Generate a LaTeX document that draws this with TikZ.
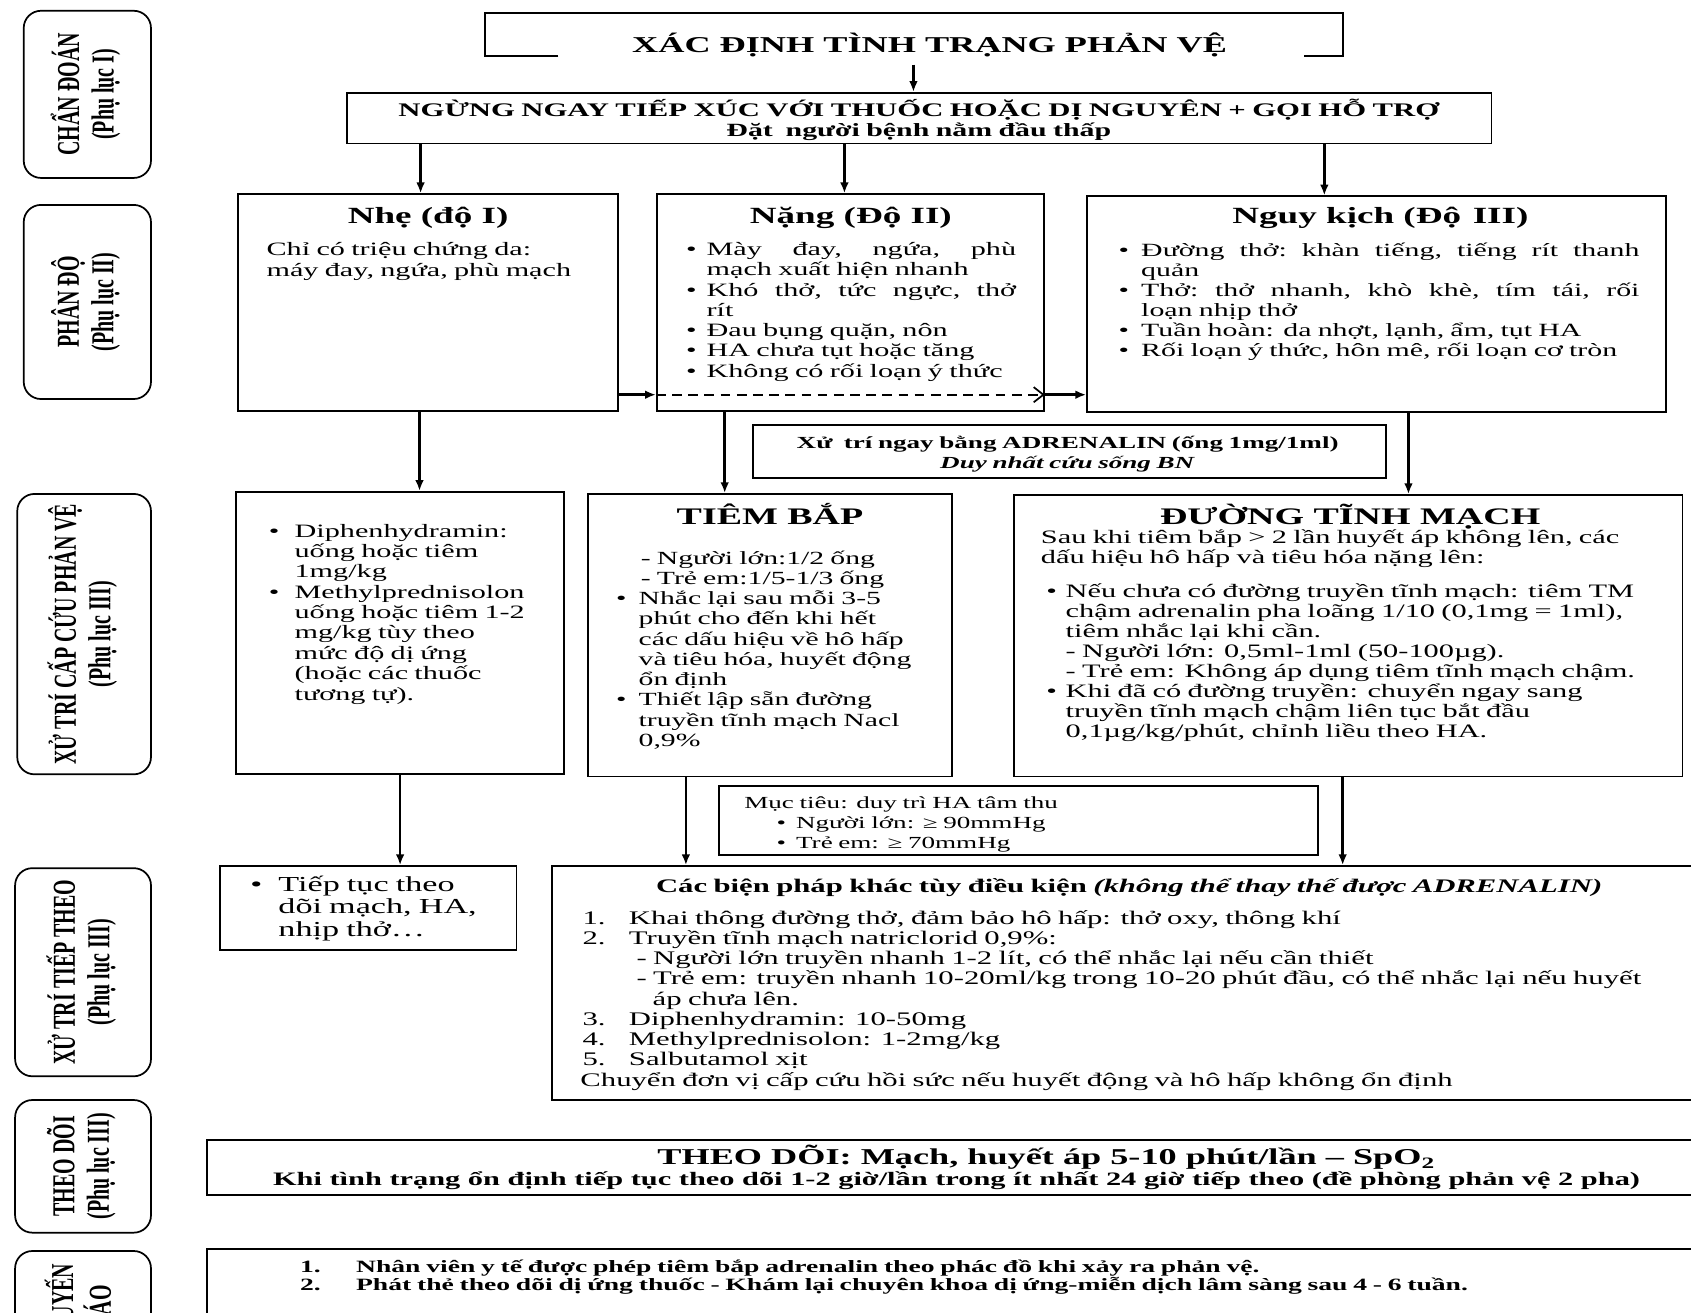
\documentclass[tikz,border=0pt]{standalone}
\usepackage{graphicx}
\usepackage{fontspec}
\setmainfont{Liberation Serif}[FakeStretch=1.6]
\newfontfamily\labfont{Liberation Serif}
\usetikzlibrary{arrows.meta,fit}
\newcommand\bul[1]{\makebox[#1][l]{•}}
\newcommand\ind[1]{\hspace*{#1}}
\newcommand\labeltext[2]{\scalebox{1}[1.6]{\labfont\bfseries\fontsize{18.5}{20}\selectfont\begin{tabular}{@{}c@{}}#1\\#2\end{tabular}}}
\begin{document}
\begin{tikzpicture}[x=1pt,y=-1pt,
  bx/.style={draw,line width=1.6pt,inner sep=0pt},
  lab/.style={draw,line width=1.6pt,rounded corners=16pt,inner sep=0pt},
  arr/.style={line width=2.4pt,-{Latex[length=10pt,width=8pt]}},
  tx/.style={inner sep=0pt,anchor=base west,align=left,text width=#1},
  tc/.style={inner sep=0pt,anchor=base,align=center,text width=#1},
  ttl/.style={inner sep=0pt,anchor=base,font=\bfseries\fontsize{21.5}{24}\selectfont},
]
\useasboundingbox (0,0) rectangle (1568,1217);
\fill[white] (0,0) rectangle (1568,1217);
\clip (0,0) rectangle (1568,1217);

% ---------- left labels ----------
\node[lab,fit={(22,10)(140,165)}] (L1) {};
\node[rotate=90,inner sep=0pt] (L1t) at (L1.center) {\labeltext{CHẨN ĐOÁN}{(Phụ lục I)}};
\node[lab,fit={(22,190)(140,370)}] (L2) {};
\node[rotate=90,inner sep=0pt] (L2t) at (L2.center) {\labeltext{PHÂN ĐỘ}{(Phụ lục II)}};
\node[lab,fit={(16,458)(140,718)}] (L3) {};
\node[rotate=90,inner sep=0pt] (L3t) at (L3.center) {\labeltext{XỬ TRÍ CẤP CỨU PHẢN VỆ}{(Phụ lục III)}};
\node[lab,fit={(14,805)(140,998)}] (L4) {};
\node[rotate=90,inner sep=0pt] (L4t) at (L4.center) {\labeltext{XỬ TRÍ TIẾP THEO}{(Phụ lục III)}};
\node[lab,fit={(14,1020)(140,1143)}] (L5) {};
\node[rotate=90,inner sep=0pt] (L5t) at (L5.center) {\labeltext{THEO DÕI}{(Phụ lục III)}};
\node[lab,fit={(14,1160)(140,1265)}] (L6) {};
\node[rotate=90,inner sep=0pt] (L6t) at (L6.center) {\labeltext{KHUYẾN}{CÁO}};

% ---------- top ----------
\node[inner sep=0pt,fit={(450,12)(1245,52)}] (top) {};
\draw[line width=1.6pt] ([xshift=68pt]top.south west) -- (top.south west) -- (top.north west)
  -- (top.north east) -- (top.south east) -- ([xshift=-36pt]top.south east);
\node[inner sep=0pt,anchor=base,font=\bfseries\fontsize{21}{24}\selectfont] (topt) at (862,49) {XÁC ĐỊNH TÌNH TRẠNG PHẢN VỆ};

\node[bx,fit={(322,86)(1383,133)}] (ngung) {};
\node[tc=1050,font=\bfseries\fontsize{17.8}{19}\selectfont] (ngungt) at (852,108)
  {NGỪNG NGAY TIẾP XÚC VỚI THUỐC HOẶC DỊ NGUYÊN + GỌI HỖ TRỢ\\{\fontsize{17.3}{19}\selectfont Đặt\ \ người bệnh nằm đầu thấp}};
\coordinate (a0) at (847,60);
\draw[arr] (a0) -- (ngung.north -| a0);

% ---------- severity ----------
\node[bx,fit={(221,180)(573,381)}] (nhe) {};
\node[bx,fit={(609,180)(968,381)}] (nang) {};
\node[bx,fit={(1008,182)(1545,382)}] (nguy) {};
\draw[arr] (ngung.south -| 390,0) -- (nhe.north -| 390,0);
\draw[arr] (ngung.south -| 783,0) -- (nang.north -| 783,0);
\draw[arr] (ngung.south -| 1228,0) -- (nguy.north -| 1228,0);

\node[ttl] (nhet) at (397,207) {Nhẹ (độ I)};
\node[ttl] (nangt) at (789,207) {Nặng (Độ II)};
\node[ttl] (nguyt) at (1280,207) {Nguy kịch (Độ\enspace III)};

\node[tx=330,font=\fontsize{17.5}{19}\selectfont] (nheb) at (247,237)
  {Chỉ có triệu chứng da:\\máy đay, ngứa, phù mạch};
\node[tx=340,font=\fontsize{17.5}{18.8}\selectfont] (nangb) at (636,237)
  {\bul{19pt}\makebox[287pt][l]{Mày\hfill đay,\hfill ngứa,\hfill phù}\\
   \ind{19pt}mạch xuất hiện nhanh\\
   \bul{19pt}\makebox[287pt][l]{Khó\hfill thở,\hfill tức\hfill ngực,\hfill thở}\\
   \ind{19pt}rít\\
   \bul{19pt}Đau bụng quặn, nôn\\
   \bul{19pt}HA chưa tụt hoặc tăng\\
   \bul{19pt}Không có rối loạn ý thức};
\node[tx=500,font=\fontsize{17.3}{18.6}\selectfont] (nguyb) at (1037,238)
  {\bul{21pt}\makebox[462pt][l]{Đường\hfill thở:\hfill khàn\hfill tiếng,\hfill tiếng\hfill rít\hfill thanh}\\
   \ind{21pt}quản\\
   \bul{21pt}\makebox[462pt][l]{Thở:\hfill thở\hfill nhanh,\hfill khò\hfill khè,\hfill tím\hfill tái,\hfill rối}\\
   \ind{21pt}loạn nhịp thở\\
   \bul{21pt}Tuần hoàn: da nhợt, lạnh, ẩm, tụt HA\\
   \bul{21pt}Rối loạn ý thức, hôn mê, rối loạn cơ tròn};

\draw[arr] (nhe.east |- 0,366) -- (nang.west |- 0,366);
\draw[line width=1.6pt,dash pattern=on 9pt off 6pt,-{Straight Barb[length=9pt,width=14pt]}]
  (nang.west |- 0,366) -- (nang.east |- 0,366);
\draw[arr] (nang.east |- 0,366) -- (nguy.west |- 0,366);

% ---------- adrenalin ----------
\node[bx,fit={(698,394)(1285,443)}] (adr) {};
\node[tc=600,font=\bfseries\fontsize{15.7}{18}\selectfont] (adrt) at (990,416)
  {Xử\ \ trí ngay bằng ADRENALIN (ống 1mg/1ml)\\\textit{Duy nhất cứu sống BN}};

% ---------- row 3 ----------
\node[bx,fit={(219,456)(523,718)}] (diph) {};
\node[bx,fit={(545,458)(883,720)}] (tiem) {};
\node[bx,fit={(940,459)(1560,720)}] (dtm) {};
\draw[arr] (nhe.south -| 389,0) -- (diph.north -| 389,0);
\draw[arr] (nang.south -| 672,0) -- (tiem.north -| 672,0);
\draw[arr] (nguy.south -| 1306,0) -- (dtm.north -| 1306,0);

\node[tx=290,font=\fontsize{17.5}{18.9}\selectfont] (diphb) at (249,498)
  {\bul{24pt}Diphenhydramin:\\
   \ind{24pt}uống hoặc tiêm\\
   \ind{24pt}1mg/kg\\
   \bul{24pt}Methylprednisolon\\
   \ind{24pt}uống hoặc tiêm 1-2\\
   \ind{24pt}mg/kg tùy theo\\
   \ind{24pt}mức độ dị ứng\\
   \ind{24pt}(hoặc các thuốc\\
   \ind{24pt}tương tự).};

\node[ttl,font=\bfseries\fontsize{22}{24}\selectfont] (tiemt) at (714,486) {TIÊM BẮP};
\node[tx=320,font=\fontsize{17.2}{18.8}\selectfont] (tiemb) at (571,523)
  {\ind{23pt}- Người lớn:1/2 ống\\
   \ind{23pt}- Trẻ em:1/5-1/3 ống\\
   \bul{21pt}Nhắc lại sau mỗi 3-5\\
   \ind{21pt}phút cho đến khi hết\\
   \ind{21pt}các dấu hiệu về hô hấp\\
   \ind{21pt}và tiêu hóa, huyết động\\
   \ind{21pt}ổn định\\
   \bul{21pt}Thiết lập sẵn đường\\
   \ind{21pt}truyền tĩnh mạch Nacl\\
   \ind{21pt}0,9\%};

\node[ttl,font=\bfseries\fontsize{22}{24}\selectfont] (dtmt) at (1252,486) {ĐƯỜNG TĨNH MẠCH};
\node[tx=600,font=\fontsize{17.6}{18.8}\selectfont] (dtmi) at (965,504)
  {Sau khi tiêm bắp > 2 lần huyết áp không lên, các\\dấu hiệu hô hấp và tiêu hóa nặng lên:};
\node[tx=600,font=\fontsize{17.6}{18.6}\selectfont] (dtmb) at (970,554)
  {\bul{18pt}Nếu chưa có đường truyền tĩnh mạch: tiêm TM\\
   \ind{18pt}chậm adrenalin pha loãng 1/10 (0,1mg = 1ml),\\
   \ind{18pt}tiêm nhắc lại khi cần.\\
   \ind{18pt}- Người lớn: 0,5ml-1ml (50-100µg).\\
   \ind{18pt}- Trẻ em: Không áp dụng tiêm tĩnh mạch chậm.\\
   \bul{18pt}Khi đã có đường truyền: chuyển ngay sang\\
   \ind{18pt}truyền tĩnh mạch chậm liên tục bắt đầu\\
   \ind{18pt}0,1µg/kg/phút, chỉnh liều theo HA.};

% ---------- muc tieu ----------
\node[bx,fit={(667,729)(1222,793)}] (muc) {};
\node[tx=520,font=\fontsize{15.7}{18.5}\selectfont] (muct) at (690,750)
  {Mục tiêu: duy trì HA tâm thu\\
   \ind{30pt}\bul{18pt}Người lớn: ≥ 90mmHg\\
   \ind{30pt}\bul{18pt}Trẻ em: ≥ 70mmHg};

% ---------- row 4 ----------
\node[bx,fit={(204,803)(479,881)}] (tiep) {};
\node[bx,fit={(512,803)(1600,1020)}] (cac) {};
\draw[arr] (diph.south -| 371,0) -- (tiep.north -| 371,0);
\draw[arr] (tiem.south -| 636,0) -- (cac.north -| 636,0);
\draw[arr] (dtm.south -| 1245,0) -- (cac.north -| 1245,0);

\node[tx=260,font=\fontsize{19.8}{20.5}\selectfont] (tiept) at (232,827)
  {\bul{26pt}Tiếp tục theo\\\ind{26pt}dõi mạch, HA,\\\ind{26pt}nhịp thở…};

\node[tc=1050,font=\bfseries\fontsize{17.8}{19}\selectfont] (cact) at (1047,828)
  {Các biện pháp khác tùy điều kiện \textit{(không thể thay thế được ADRENALIN)}};
\node[tx=1050,font=\fontsize{17.8}{18.75}\selectfont] (cacb) at (540,857)
  {\makebox[43pt][l]{1.}Khai thông đường thở, đảm bảo hô hấp: thở oxy, thông khí\\
   \makebox[43pt][l]{2.}Truyền tĩnh mạch natriclorid 0,9\%:\\
   \ind{50pt}- Người lớn truyền nhanh 1-2 lít, có thể nhắc lại nếu cần thiết\\
   \ind{50pt}- Trẻ em: truyền nhanh 10-20ml/kg trong 10-20 phút đầu, có thể nhắc lại nếu huyết\\
   \ind{65pt}áp chưa lên.\\
   \makebox[43pt][l]{3.}Diphenhydramin: 10-50mg\\
   \makebox[43pt][l]{4.}Methylprednisolon: 1-2mg/kg\\
   \makebox[43pt][l]{5.}Salbutamol xịt\\
   \hspace*{-2pt}Chuyển đơn vị cấp cứu hồi sức nếu huyết động và hô hấp không ổn định};

% ---------- theo doi ----------
\node[bx,fit={(192,1057)(1600,1108)}] (theo) {};
\node[inner sep=0pt,anchor=base,font=\bfseries\fontsize{21}{19}\selectfont] (theo1) at (970,1080)
  {THEO DÕI: Mạch, huyết áp 5-10 phút/lần – SpO\textsubscript{2}};
\node[inner sep=0pt,anchor=base,font=\bfseries\fontsize{17.6}{19}\selectfont] (theo2) at (887,1099)
  {Khi tình trạng ổn định tiếp tục theo dõi 1-2 giờ/lần trong ít nhất 24 giờ tiếp theo (đề phòng phản vệ 2 pha)};

% ---------- khuyen cao ----------
\node[bx,fit={(192,1158)(1600,1260)}] (khuyen) {};
\node[tx=1250,font=\bfseries\fontsize{16}{17}\selectfont] (khuyent) at (278,1180)
  {\makebox[52pt][l]{1.}Nhân viên y tế được phép tiêm bắp adrenalin theo phác đồ khi xảy ra phản vệ.\\
   \makebox[52pt][l]{2.}Phát thẻ theo dõi dị ứng thuốc - Khám lại chuyên khoa dị ứng-miễn dịch lâm sàng sau 4 - 6 tuần.};
\end{tikzpicture}
\end{document}
